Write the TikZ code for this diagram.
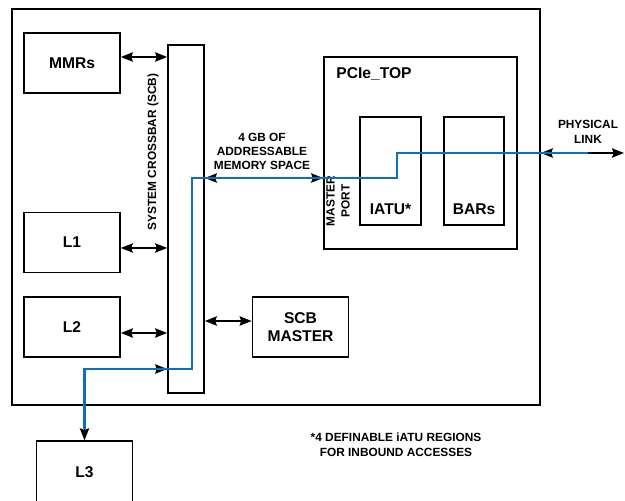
\documentclass[tikz,border=0pt]{standalone}
\usepackage{fontspec}
\setmainfont{Liberation Sans}
\usepackage{xcolor}
\usetikzlibrary{arrows.meta}
\definecolor{linkblue}{RGB}{16,110,190}

\begin{document}
\begin{tikzpicture}[x=.75pt,y=-.75pt,
  >={Stealth[length=9pt,width=7pt,inset=1.2pt]},
  big/.style={font=\fontsize{11.7}{14}\selectfont\bfseries},
  small/.style={font=\fontsize{8.9}{10.8}\selectfont\bfseries},
  blk/.style={draw=black,line width=1.3pt,big,align=center,inner sep=0pt},
  unit/.style={blk,minimum width=72pt,minimum height=45pt},
  bus/.style={draw=black,line width=1.2pt},
  hilite/.style={draw=linkblue,line width=1.6pt}
]
 \path[use as bounding box] (0,0) rectangle (625,500);

 % Chip outline, crossbar and the blocks hanging off it.
 \node[blk,minimum width=396pt,minimum height=297pt] (soc) at (276,207) {};
 \node[blk,minimum width=27pt,minimum height=261pt] (scb) at (186,219) {};
 \node[small,rotate=90] (scblbl) at (153,152) {SYSTEM CROSSBAR (SCB)};

 \node[unit] (mmr) at (72,63) {MMRs};
 \node[unit] (lone) at (72,242.5) {L1};
 \node[unit] (ltwo) at (72,327) {L2};
 \node[unit,minimum height=47pt] (lthree) at (84.5,472.5) {L3};
 \node[unit] (scbm) at (300.5,327) {SCB\\MASTER};

 % PCIe controller with its inner blocks.
 \node[blk,minimum width=144.75pt,minimum height=144pt] (pcie) at (420.5,153) {};
 \node[big,anchor=west,inner sep=0pt] (pcielbl)
   at ([xshift=9.75pt,yshift=-13.5pt]pcie.north west) {PCIe\_TOP};
 \node[blk,minimum width=45.75pt,minimum height=81pt] (iatu) at (390.5,171) {};
 \node[blk,minimum width=45pt,minimum height=81pt] (bars) at (474,171) {};
 \node[big,inner sep=0pt] (iatulbl) at ([yshift=12.75pt]iatu.south) {IATU*};
 \node[big,inner sep=0pt] (barslbl) at ([yshift=12.75pt]bars.south) {BARs};
 \node[small,align=center,rotate=90,font=\fontsize{8.9}{11.2}\selectfont\bfseries]
   (portlbl) at (338,201) {MASTER\\PORT};

 \node[small,align=center] (memlbl) at (262,151.5)
   {4 GB OF\\ADDRESSABLE\\MEMORY SPACE};
 \node[small,align=center] (linklbl) at (588,132) {PHYSICAL\\LINK};
 \node[small,align=center,font=\fontsize{8.9}{11.2}\selectfont\bfseries]
   (notelbl) at (396,444.5) {*4 DEFINABLE iATU REGIONS\\FOR INBOUND ACCESSES};

 % Ports on the crossbar.
 \coordinate (mmrport) at ([yshift=4.5pt]mmr.east);
 \coordinate (loneport) at ([yshift=-4.1pt]lone.east);
 \coordinate (ltwoport) at ([yshift=-4.5pt]ltwo.east);
 \coordinate (scbmport) at ([yshift=4.5pt]scbm.west);
 \coordinate (mport) at ([yshift=-18.75pt]pcie.west);
 \coordinate (linkend) at (624,153);
 \coordinate (ltap) at (84.5,369);

 \draw[bus,<->] (mmrport) -- (mmrport -| scb.west);
 \draw[bus,<->] (loneport) -- (loneport -| scb.west);
 \draw[bus,<->] (ltwoport) -- (ltwoport -| scb.west);
 \draw[bus,<->] (scbmport -| scb.east) -- (scbmport);
 \draw[bus,<->] (mport -| scb.east) -- (mport);
 \draw[bus,<->] (linkend -| soc.east) -- (linkend);
 \draw[bus,->] (ltap) -- (ltap -| scb.west);
 \draw[bus,->] (ltap) -- (lthree.north);

 % Inbound access path from the link down to L3.
 \coordinate (scbtap) at (192,369);
 \coordinate (xlate) at (397,178);
 \coordinate (linkfade) at (588,153);
 \draw[hilite,shorten <=8.5pt] (lthree.north) |- (scbtap) |- (xlate) |- (linkfade);
\end{tikzpicture}
\end{document}
